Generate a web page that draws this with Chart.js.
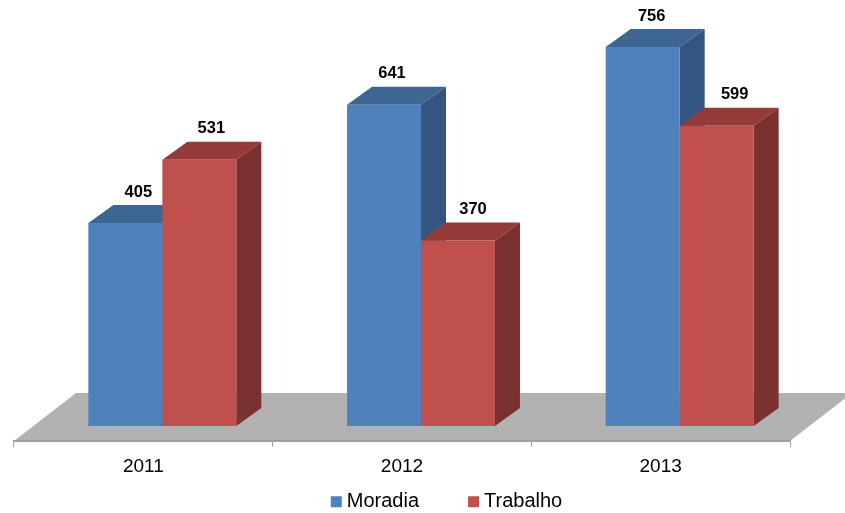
<!DOCTYPE html>
<html>
<head>
<meta charset="utf-8">
<title>Moradia e Trabalho</title>
<script src="https://cdn.jsdelivr.net/npm/chart.js@4/dist/chart.umd.min.js"></script>
<style>
  html, body { margin: 0; padding: 0; background: #fff; }
  #wrap { width: 845px; height: 513px; }
</style>
</head>
<body>
<div id="wrap"><canvas id="chart" width="845" height="513"></canvas></div>
<script>
var categories = ['2011', '2012', '2013'];
var moradia = [405, 641, 756];
var trabalho = [531, 370, 599];

//depth of the fake 3D box, and how far the bars sit behind the axis line
var depthX = 25, depthY = 18;
var shiftX = 19, shiftY = 15;
var floorX = 62, floorY = 48;
var axisOverlap = 48;

var faceColors = [
  { top: '#3e6693', side: '#33557f' },
  { top: '#953b39', side: '#7b3130' }
];
//value labels are not placed evenly over the boxes in the original
var labelNudge = [[13, 8, 9], [12, 15, 18]];

function drawPoly(ctx, pts, color){
  ctx.fillStyle = color;
  ctx.beginPath();
  ctx.moveTo(pts[0][0], pts[0][1]);
  for(var i=1; i<pts.length; i++){
    ctx.lineTo(pts[i][0], pts[i][1]);
  }
  ctx.closePath();
  ctx.fill();
}

var fake3d = {
  id: 'fake3d',
  afterLayout: function(chart){
    //the legend is not centred on the canvas in the original
    chart.legend.left += 47;
    chart.legend.right += 47;
    //tick labels get clipped to the scale box, so give back the height taken in afterFit
    chart.scales.x.bottom += axisOverlap;
  },
  beforeDraw: function(chart){
    //grey floor under the bars
    var ctx = chart.ctx, a = chart.chartArea;
    drawPoly(ctx, [
      [a.left, a.bottom],
      [a.left + floorX, a.bottom - floorY],
      [a.right + floorX, a.bottom - floorY],
      [a.right, a.bottom]
    ], '#b2b2b2');
  },
  beforeDatasetsDraw: function(chart){
    var ctx = chart.ctx;
    ctx.save();
    ctx.translate(shiftX, -shiftY);
    //top and side faces first, the library then paints the fronts over them
    chart.data.datasets.forEach(function(ds, d){
      chart.getDatasetMeta(d).data.forEach(function(bar){
        var l = bar.x - bar.width/2, r = bar.x + bar.width/2, t = bar.y, b = bar.base;
        drawPoly(ctx, [[l, t], [l + depthX, t - depthY], [r + depthX, t - depthY], [r, t]], faceColors[d].top);
        drawPoly(ctx, [[r, t], [r + depthX, t - depthY], [r + depthX, b - depthY], [r, b]], faceColors[d].side);
      });
    });
  },
  afterDatasetsDraw: function(chart){
    var ctx = chart.ctx;
    ctx.font = 'bold 16.5px "Liberation Sans", Arial, sans-serif';
    ctx.fillStyle = '#000';
    ctx.textAlign = 'center';
    ctx.textBaseline = 'middle';
    chart.data.datasets.forEach(function(ds, d){
      chart.getDatasetMeta(d).data.forEach(function(bar, i){
        ctx.fillText(String(ds.data[i]), bar.x + labelNudge[d][i], bar.y - 31);
      });
    });
    ctx.restore();
  }
};

Chart.defaults.font.family = '"Liberation Sans", Arial, sans-serif';

new Chart(document.getElementById('chart'), {
  type: 'bar',
  data: {
    labels: categories,
    datasets: [
      { label: 'Moradia', data: moradia, backgroundColor: '#4f81bd', borderWidth: 0, clip: false },
      { label: 'Trabalho', data: trabalho, backgroundColor: '#c0504d', borderWidth: 0, clip: false }
    ]
  },
  options: {
    responsive: false,
    animation: false,
    categoryPercentage: 0.572,
    barPercentage: 1,
    layout: { padding: { left: 14, right: 55, top: 40, bottom: -12 } },
    scales: {
      x: {
        afterFit: function(scale){ scale.height -= axisOverlap; },
        grid: { drawOnChartArea: false, color: '#a0a0a0', tickLength: 6 },
        border: { color: '#a0a0a0', width: 2 },
        ticks: { color: '#000', font: { size: 19 }, padding: 8, maxRotation: 0 }
      },
      y: { display: false, min: 0, max: 800 }
    },
    plugins: {
      legend: {
        position: 'bottom',
        labels: {
          usePointStyle: true,
          pointStyle: 'rect',
          boxWidth: 1,
          boxHeight: 11,
          padding: 54,
          color: '#000',
          font: { size: 20 }
        }
      },
      tooltip: { enabled: false }
    }
  },
  plugins: [fake3d]
});
</script>
</body>
</html>
